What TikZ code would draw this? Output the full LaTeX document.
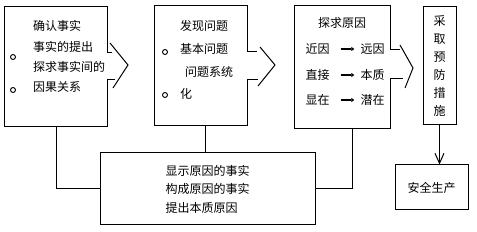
\documentclass[tikz,border=0pt]{standalone}
\usepackage{fontspec}
\newfontfamily\cjk{Noto Sans CJK SC}
\usetikzlibrary{arrows.meta,positioning,calc}
\tikzstyle{boxline}=[line width=1pt, line join=miter]
\tikzstyle{boxnode}=[rectangle, draw, line width=1pt, inner sep=0pt, font=\cjk\fontsize{12}{18.5}\selectfont]
\tikzstyle{shellnode}=[rectangle, inner sep=0pt]
\tikzstyle{txt}=[inner sep=0pt, align=left, font=\cjk\fontsize{12}{20.3}\selectfont]
\tikzstyle{word}=[inner sep=0pt, font=\cjk\fontsize{12}{14}\selectfont]
\tikzstyle{dot}=[circle, draw, line width=0.9pt, inner sep=0pt, minimum size=5pt]
\tikzstyle{conn}=[line width=1pt]
\tikzstyle{flowarr}=[-{Straight Barb[length=10pt,width=9pt]}, line width=1pt]
\tikzstyle{linkarr}=[-{Triangle[length=3pt,width=4pt]}, line width=2pt, shorten <=11pt, shorten >=6pt]

\begin{document}
\begin{tikzpicture}[x=1pt, y=-1pt]
    \useasboundingbox (0,0) rectangle (477,232);

    % the three boxes with an opening on the right
    \node[shellnode, minimum width=102pt, minimum height=119pt] (b1) at (56,66.5) {};
    \node[shellnode, minimum width=92pt, minimum height=119pt] (b2) at (201,65.5) {};
    \node[shellnode, minimum width=95pt, minimum height=122pt] (b3) at (342.5,67) {};

    \draw[boxline] ([yshift=-46pt]b1.north east) |- (b1.north west) |- (b1.south east) -- ([yshift=46pt]b1.south east);
    \draw[boxline] ([yshift=-46pt]b2.north east) |- (b2.north west) |- (b2.south east) -- ([yshift=45pt]b2.south east);
    \draw[boxline] ([yshift=-44pt]b3.north east) |- (b3.north west) |- (b3.south east) -- ([yshift=49pt]b3.south east);

    % chevrons
    \draw[boxline] (107,53) -- (112,53);
    \draw[boxline] (107,80) -- (115,80);
    \draw[boxline] (110,43) -- (128,65) -- (113,88);
    \draw[boxline] (247,52) -- (257,52);
    \draw[boxline] (247,80) -- (258,80);
    \draw[boxline] (260,47) -- (275,65) -- (258,86);
    \draw[boxline] (390,50) -- (400,50);
    \draw[boxline] (390,79) -- (403,79);
    \draw[boxline] (400,45) -- (413,68) -- (405,88);

    % text of box 1
    \node[txt, anchor=north west] (t1) at (33,20.5) {确认事实\\事实的提出\\探求事实间的\\因果关系};
    \node[dot] (o1) at (13,57) {};
    \node[dot] (o2) at (13,90) {};

    % text of box 2
    \node[txt, anchor=north west, font=\cjk\fontsize{12}{22.7}\selectfont] (t2) at (180,20.5) {发现问题\\基本问题\\\hspace{5pt}问题系统\\化};
    \node[dot] (o3) at (165,52) {};
    \node[dot] (o4) at (165,95) {};

    % text of box 3
    \node[word] (t3) at (342,23) {探求原因};
    \node[word] (n1) at (317.5,49) {近因};
    \node[word] (m1) at (372.5,49) {远因};
    \node[word] (n2) at (317.5,75) {直接};
    \node[word] (m2) at (372.5,75) {本质};
    \node[word] (n3) at (317.5,100) {显在};
    \node[word] (m3) at (372.5,100) {潜在};
    \draw[linkarr] (n1) -- (m1);
    \draw[linkarr] (n2) -- (m2);
    \draw[linkarr] (n3) -- (m3);

    % right column
    \node[boxnode, align=center, minimum width=33pt, minimum height=118pt, font=\cjk\fontsize{12}{18}\selectfont] (b4) at (439.5,66) {采\\取\\预\\防\\措\\施};
    \node[boxnode, minimum width=73pt, minimum height=45pt] (b5) at (431.5,187.5) {安全生产};

    % bottom box
    \node[boxnode, align=left, minimum width=215pt, minimum height=72pt] (b6) at (207.5,189) {显示原因的事实\\构成原因的事实\\提出本质原因};

    % connectors
    \coordinate (d2) at ([xshift=4pt]b2.south);
    \coordinate (d3) at ([xshift=10pt]b3.south);
    \draw[conn] (b1.south) |- (b6.west);
    \draw[conn] (d2) -- (d2 |- b6.north);
    \draw[conn] (d3) |- (b6.east);
    \draw[flowarr] (b4.south) -- (b4.south |- b5.north);
\end{tikzpicture}
\end{document}
